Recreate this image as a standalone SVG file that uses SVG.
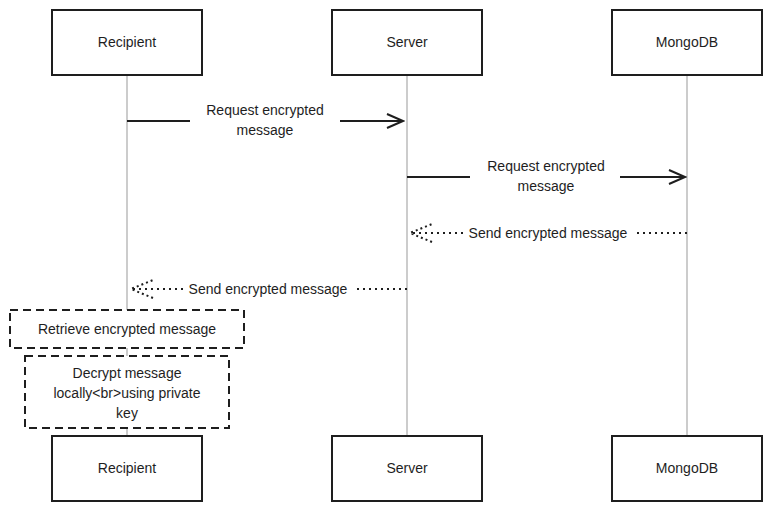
<svg xmlns="http://www.w3.org/2000/svg" width="772" height="511" viewBox="0 0 772 511">
<style>
text{font-family:"Liberation Sans",sans-serif;font-size:14px;fill:#1e1e1e;text-anchor:middle}
.box{fill:#fff;stroke:#1e1e1e;stroke-width:2}
.life{stroke:#999;stroke-width:1}
.msg{stroke:#1e1e1e;stroke-width:2;fill:none}
.dot{stroke:#1e1e1e;stroke-width:2;stroke-dasharray:2 4;fill:none}
.note{fill:#fff;stroke:#1e1e1e;stroke-width:2;stroke-dasharray:8 5}
</style>
<defs>
<marker id="ah" markerWidth="20" markerHeight="16" refX="18" refY="8" orient="auto" markerUnits="userSpaceOnUse">
<path d="M2 1 L18 8 L2 15" fill="none" stroke="#1e1e1e" stroke-width="2"/>
</marker>
<marker id="ahd" markerWidth="26" markerHeight="20" refX="24" refY="10" orient="auto" markerUnits="userSpaceOnUse">
<path d="M2 1 L24 10 L2 19" fill="none" stroke="#1e1e1e" stroke-width="2" stroke-dasharray="2 3"/>
</marker>
</defs>
<g id="lifelines">
<line class="life" x1="127" y1="75" x2="127" y2="436"/>
<line class="life" x1="407" y1="75" x2="407" y2="436"/>
<line class="life" x1="687" y1="75" x2="687" y2="436"/>
</g>
<g id="p-recipient-top"><rect class="box" x="52" y="10" width="150" height="65"/><text x="127" y="47">Recipient</text></g>
<g id="p-server-top"><rect class="box" x="332" y="10" width="150" height="65"/><text x="407" y="47">Server</text></g>
<g id="p-mongo-top"><rect class="box" x="612" y="10" width="150" height="65"/><text x="687" y="47">MongoDB</text></g>
<g id="p-recipient-bottom"><rect class="box" x="52" y="436" width="150" height="65"/><text x="127" y="473">Recipient</text></g>
<g id="p-server-bottom"><rect class="box" x="332" y="436" width="150" height="65"/><text x="407" y="473">Server</text></g>
<g id="p-mongo-bottom"><rect class="box" x="612" y="436" width="150" height="65"/><text x="687" y="473">MongoDB</text></g>
<g id="connectors">
<line class="msg" x1="127" y1="121" x2="190" y2="121"/>
<line class="msg" x1="340" y1="121" x2="403" y2="121" marker-end="url(#ah)"/>
<text x="265" y="115">Request encrypted</text><text x="265" y="135">message</text>
<line class="msg" x1="407" y1="177" x2="470" y2="177"/>
<line class="msg" x1="620" y1="177" x2="685" y2="177" marker-end="url(#ah)"/>
<text x="546" y="171">Request encrypted</text><text x="546" y="191">message</text>
<line class="dot" x1="687" y1="233" x2="633" y2="233"/>
<line class="dot" x1="463" y1="233" x2="410" y2="233" marker-end="url(#ahd)"/>
<text x="548" y="238">Send encrypted message</text>
<line class="dot" x1="407" y1="289" x2="353" y2="289"/>
<line class="dot" x1="183" y1="289" x2="131" y2="289" marker-end="url(#ahd)"/>
<text x="268" y="294">Send encrypted message</text>
</g>
<g id="note1"><rect class="note" x="10" y="310" width="234" height="38"/><text x="127" y="334">Retrieve encrypted message</text></g>
<g id="note2"><rect class="note" x="25" y="356" width="204" height="72"/><text x="127" y="378">Decrypt message</text><text x="127" y="398">locally&lt;br&gt;using private</text><text x="127" y="418">key</text></g>
</svg>
